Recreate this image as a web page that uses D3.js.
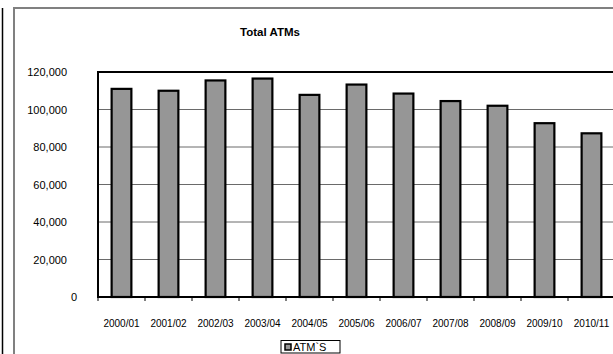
<!DOCTYPE html>
<html>
<head>
<meta charset="utf-8">
<script src="https://cdn.jsdelivr.net/npm/d3@7"></script>
<style>
  html, body { margin: 0; padding: 0; background: #fff; }
  svg { display: block; font-family: Arial, "Liberation Sans", sans-serif; }
</style>
</head>
<body>
<svg id="chart" width="613" height="354"></svg>
<script>
// Financial years on the category axis
const years = ["2000/01", "2001/02", "2002/03", "2003/04", "2004/05", "2005/06",
               "2006/07", "2007/08", "2008/09", "2009/10", "2010/11"];
// Number of ATMs per year
const atms = [111000, 110000, 115500, 116500, 107800, 113300,
              108500, 104500, 102000, 92700, 87300];
// Value-axis ticks
const yTicks = [0, 20000, 40000, 60000, 80000, 100000, 120000];
const seriesName = "ATM`S";
const chartTitle = "Total ATMs";

const svg = d3.select("#chart");

// Page frame lines
svg.append("line").attr("x1", 2.5).attr("x2", 2.5).attr("y1", 8).attr("y2", 354)
  .attr("stroke", "#000").attr("stroke-width", 1.5);
svg.append("path").attr("d", "M14,354 V8 H613")
  .attr("fill", "none").attr("stroke", "#808080").attr("stroke-width", 2);

const plot = { left: 98, top: 72, bottom: 297, step: 47 };
plot.right = plot.left + plot.step * years.length;

const x = d3.scaleBand().domain(years).range([plot.left, plot.right])
  .paddingInner(0.58).paddingOuter(0.29);
const y = d3.scaleLinear().domain([0, 120000]).range([plot.bottom, plot.top]);

// Title
svg.append("text").attr("x", 270).attr("y", 36).attr("text-anchor", "middle")
  .attr("font-size", 11.5).attr("font-weight", "bold").text(chartTitle);

// Gridlines
svg.append("g").selectAll("line").data(yTicks.filter(d => d > 0 && d < 120000)).join("line")
  .attr("x1", plot.left).attr("x2", plot.right)
  .attr("y1", d => y(d)).attr("y2", d => y(d))
  .attr("stroke", "#6a6a6a").attr("stroke-width", 1);

// Value-axis labels
const fmt = d3.format(",");
svg.append("g").selectAll("text").data(yTicks).join("text")
  .attr("x", d => d === 0 ? 77 : 67)
  .attr("y", d => y(d) + 4)
  .attr("text-anchor", "end").attr("font-size", 11)
  .text(d => fmt(d));

// Bars
svg.append("g").selectAll("rect").data(atms).join("rect")
  .attr("x", (d, i) => x(years[i]))
  .attr("y", d => y(d))
  .attr("width", x.bandwidth())
  .attr("height", d => plot.bottom - y(d))
  .attr("fill", "#969696").attr("stroke", "#000").attr("stroke-width", 2.2);

// Plot-area border
svg.append("path")
  .attr("d", `M${plot.right},${plot.top} H${plot.left} V${plot.bottom} H${plot.right}`)
  .attr("fill", "none").attr("stroke", "#000").attr("stroke-width", 2);

// Category axis ticks and labels
const xAxis = d3.axisBottom(x).tickSize(0).tickPadding(0);
const gx = svg.append("g").attr("transform", `translate(0,${plot.bottom})`).call(xAxis);
gx.select(".domain").remove();
gx.selectAll("text").attr("font-size", 10).attr("font-family", "Arial, 'Liberation Sans', sans-serif")
  .attr("fill", "#000").attr("dy", null).attr("y", 30);
svg.append("g").selectAll("line").data(d3.range(years.length + 1)).join("line")
  .attr("x1", i => plot.left + i * plot.step).attr("x2", i => plot.left + i * plot.step)
  .attr("y1", plot.bottom).attr("y2", plot.bottom + 4)
  .attr("stroke", "#000").attr("stroke-width", 1);

// Legend
const lg = svg.append("g").attr("transform", "translate(281,340.5)");
lg.append("rect").attr("width", 59).attr("height", 12.5)
  .attr("fill", "#fff").attr("stroke", "#000").attr("stroke-width", 1);
lg.append("rect").attr("x", 4).attr("y", 3.5).attr("width", 6).attr("height", 6)
  .attr("fill", "#969696").attr("stroke", "#000").attr("stroke-width", 1.5);
lg.append("text").attr("x", 12).attr("y", 10.5).attr("font-size", 11).text(seriesName);
</script>
</body>
</html>
